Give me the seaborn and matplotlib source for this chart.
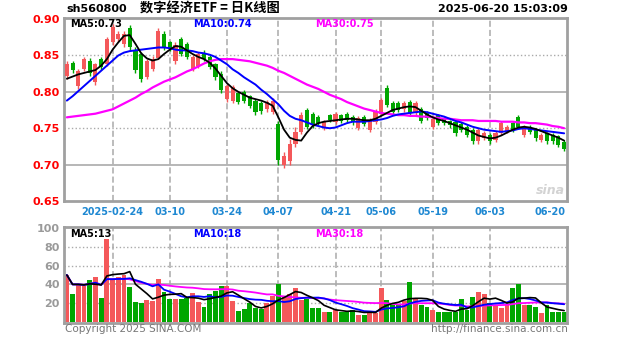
import numpy as np
import pandas as pd
import matplotlib
matplotlib.use("Agg")
import matplotlib.pyplot as plt
import seaborn as sns

# ---------------- data ----------------
holidays = ["2025-04-04", "2025-05-01", "2025-05-02", "2025-05-05", "2025-06-02"]
dates = [d for d in pd.bdate_range("2025-02-12", "2025-06-20") if d.strftime("%Y-%m-%d") not in holidays]

opens = [0.822,0.840,0.808,0.832,0.843,0.813,0.845,0.838,0.868,0.872,
         0.866,0.888,0.858,0.852,0.820,0.832,0.847,0.880,0.868,0.842,
         0.872,0.866,0.832,0.836,0.854,0.848,0.838,0.825,0.790,0.788,
         0.798,0.800,0.794,0.788,0.785,0.776,0.772,0.756,0.700,0.705,
         0.728,0.745,0.775,0.770,0.766,0.750,0.768,0.759,0.768,0.770,
         0.766,0.750,0.766,0.748,0.759,0.770,0.805,0.784,0.784,0.776,
         0.786,0.771,0.776,0.772,0.752,0.768,0.763,0.760,0.758,0.756,
         0.752,0.748,0.732,0.736,0.741,0.734,0.743,0.745,0.757,0.766,
         0.741,0.752,0.748,0.734,0.743,0.741,0.739,0.731]
closes = [0.838,0.830,0.828,0.845,0.826,0.838,0.834,0.872,0.889,0.880,
          0.880,0.862,0.830,0.818,0.842,0.845,0.884,0.862,0.860,0.864,
          0.852,0.848,0.848,0.852,0.845,0.834,0.820,0.802,0.808,0.806,
          0.786,0.788,0.781,0.772,0.774,0.786,0.788,0.706,0.712,0.728,
          0.745,0.768,0.752,0.755,0.757,0.759,0.762,0.770,0.760,0.762,
          0.758,0.764,0.756,0.761,0.773,0.789,0.782,0.773,0.775,0.784,
          0.771,0.784,0.760,0.764,0.763,0.757,0.757,0.754,0.743,0.748,
          0.741,0.732,0.748,0.743,0.732,0.743,0.757,0.752,0.748,0.752,
          0.752,0.745,0.736,0.741,0.732,0.732,0.727,0.722]
highs = [0.842,0.842,0.832,0.848,0.846,0.840,0.848,0.876,0.893,0.884,
         0.884,0.892,0.862,0.855,0.845,0.849,0.888,0.884,0.870,0.868,
         0.875,0.868,0.851,0.855,0.857,0.850,0.840,0.828,0.811,0.810,
         0.800,0.802,0.796,0.790,0.788,0.789,0.791,0.760,0.718,0.735,
         0.752,0.772,0.778,0.772,0.768,0.762,0.770,0.773,0.770,0.772,
         0.768,0.767,0.768,0.764,0.776,0.792,0.810,0.787,0.787,0.787,
         0.789,0.787,0.779,0.774,0.766,0.770,0.765,0.762,0.760,0.758,
         0.754,0.750,0.751,0.746,0.744,0.746,0.760,0.755,0.760,0.768,
         0.755,0.755,0.750,0.743,0.745,0.743,0.741,0.734]
lows = [0.818,0.826,0.804,0.829,0.822,0.810,0.830,0.835,0.865,0.869,
        0.862,0.858,0.826,0.814,0.817,0.829,0.845,0.858,0.856,0.838,
        0.849,0.845,0.829,0.833,0.842,0.831,0.816,0.798,0.786,0.785,
        0.783,0.785,0.778,0.768,0.770,0.773,0.769,0.700,0.695,0.700,
        0.724,0.742,0.749,0.751,0.754,0.747,0.759,0.756,0.757,0.759,
        0.755,0.748,0.753,0.745,0.756,0.768,0.779,0.770,0.772,0.773,
        0.768,0.768,0.757,0.761,0.749,0.754,0.754,0.751,0.740,0.745,
        0.738,0.729,0.729,0.734,0.729,0.731,0.741,0.743,0.745,0.749,
        0.738,0.742,0.733,0.731,0.729,0.729,0.724,0.719]
ma5 = [0.818,0.821,0.824,0.826,0.828,0.830,0.836,0.845,0.858,0.868,
       0.877,0.878,0.866,0.853,0.846,0.843,0.845,0.852,0.858,0.863,
       0.862,0.857,0.852,0.848,0.845,0.840,0.832,0.822,0.812,0.805,
       0.800,0.796,0.792,0.790,0.788,0.785,0.781,0.765,0.748,0.737,
       0.734,0.733,0.744,0.753,0.757,0.759,0.760,0.761,0.762,0.763,
       0.763,0.762,0.761,0.761,0.763,0.767,0.771,0.775,0.777,0.779,
       0.780,0.779,0.774,0.769,0.765,0.762,0.760,0.757,0.754,0.751,
       0.748,0.744,0.740,0.738,0.736,0.737,0.740,0.744,0.748,0.751,
       0.752,0.751,0.749,0.746,0.743,0.740,0.737,0.733]
ma10 = [0.788,0.794,0.801,0.808,0.815,0.822,0.829,0.836,0.843,0.850,
        0.854,0.856,0.857,0.858,0.859,0.860,0.861,0.861,0.860,0.858,
        0.857,0.857,0.856,0.854,0.853,0.851,0.848,0.843,0.838,0.831,
        0.826,0.820,0.815,0.810,0.803,0.797,0.790,0.783,0.774,0.767,
        0.763,0.761,0.758,0.755,0.753,0.751,0.750,0.751,0.754,0.757,
        0.759,0.759,0.759,0.760,0.761,0.762,0.764,0.767,0.769,0.770,
        0.771,0.772,0.773,0.772,0.770,0.768,0.766,0.763,0.760,0.758,
        0.755,0.752,0.750,0.748,0.747,0.746,0.745,0.746,0.747,0.749,
        0.750,0.749,0.748,0.747,0.746,0.745,0.744,0.743]
ma30 = [0.765,0.766,0.767,0.768,0.769,0.770,0.772,0.774,0.776,0.780,
        0.784,0.788,0.792,0.797,0.801,0.806,0.810,0.814,0.817,0.820,
        0.824,0.828,0.831,0.835,0.839,0.842,0.844,0.845,0.845,0.845,
        0.844,0.843,0.842,0.840,0.838,0.836,0.833,0.829,0.826,0.822,
        0.818,0.814,0.810,0.807,0.804,0.800,0.796,0.793,0.790,0.786,
        0.783,0.780,0.777,0.775,0.773,0.771,0.770,0.769,0.768,0.768,
        0.767,0.767,0.766,0.766,0.765,0.764,0.763,0.763,0.762,0.761,
        0.761,0.761,0.760,0.760,0.760,0.760,0.759,0.759,0.759,0.758,
        0.758,0.757,0.757,0.756,0.755,0.753,0.752,0.750]
volumes = [50,30,40,38,45,48,26,88,45,48,
           50,37,21,20,23,22,46,32,24,24,
           25,26,31,21,16,30,33,38,38,22,
           12,14,20,15,14,20,28,40,28,30,
           36,23,25,15,15,11,11,13,11,11,
           13,8,8,12,10,36,23,18,18,22,
           43,25,18,16,13,11,11,11,11,25,
           13,27,32,30,20,18,15,18,36,40,
           18,18,16,10,18,11,11,11]

tick_dates = ["2025-02-24", "2025-03-10", "2025-03-24", "2025-04-07", "2025-04-21",
              "2025-05-06", "2025-05-19", "2025-06-03", "2025-06-20"]
tick_labels = ["2025-02-24", "03-10", "03-24", "04-07", "04-21", "05-06", "05-19", "06-03", "06-20"]
price_ticks = [0.65, 0.70, 0.75, 0.80, 0.85, 0.90]
price_tick_labels = ["0.65", "0.70", "0.75", "0.80", "0.85", "0.90"]
vol_ticks = [20, 40, 60, 80, 100]
vol_tick_labels = ["20", "40", "60", "80", "100"]

# ---------------- style ----------------
sns.set_theme(style="white")
plt.rcParams["font.family"] = ["DejaVu Sans", "Noto Sans CJK SC"]

RED = "#F4585A"
GREEN = "#00A600"
GRID = "#AAAAAA"
DATE_BLUE = "#1E88D2"

date_str = [d.strftime("%Y-%m-%d") for d in dates]
df = pd.DataFrame({"idx": np.arange(len(dates)), "open": opens, "close": closes,
                   "high": highs, "low": lows, "ma5": ma5, "ma10": ma10, "ma30": ma30,
                   "vol": volumes})
df["up"] = df["close"] >= df["open"]
df["color"] = np.where(df["up"], RED, GREEN)

fig = plt.figure(figsize=(6.27, 3.42), dpi=100)
W, H = 627, 342
L, R = 64, 567
ax = fig.add_axes([L / W, 1 - 201 / H, (R - L) / W, 183 / H])
axv = fig.add_axes([L / W, 1 - 323 / H, (R - L) / W, 96 / H])

n = len(df)
for a in (ax, axv):
    a.set_xlim(-0.5, n - 0.5)
    a.set_facecolor("white")
    for s in a.spines.values():
        s.set_color("#A0A0A0")
        s.set_linewidth(2.0)
    a.set_xticks([])

tick_pos = [date_str.index(t) for t in tick_dates]

# grid lines
for a in (ax, axv):
    for p in tick_pos[:-1]:
        a.axvline(p, color=GRID, lw=1.1, ls=(0, (4, 2)), zorder=0)
for yv, st in [(0.85, ":"), (0.80, "-"), (0.75, ":"), (0.70, "-")]:
    ax.axhline(yv, color=GRID, lw=1.2 if st == "-" else 1.0, ls=st, zorder=0)
for yv, st in [(80, ":"), (60, ":"), (40, "-"), (20, ":")]:
    axv.axhline(yv, color=GRID, lw=1.2 if st == "-" else 1.0, ls=st, zorder=0)

# candles
ax.vlines(df["idx"], df["low"], df["high"], colors=df["color"], lw=1.0, zorder=2)
body_bottom = np.minimum(df["open"], df["close"])
body_h = np.maximum(np.abs(df["close"] - df["open"]), 0.0012)
ax.bar(df["idx"], body_h, bottom=body_bottom, width=0.72, color=df["color"], lw=0, zorder=3)

# moving averages
sns.lineplot(data=df, x="idx", y="ma30", ax=ax, color="#FF00FF", lw=1.6, zorder=4)
sns.lineplot(data=df, x="idx", y="ma10", ax=ax, color="#0000FF", lw=1.4, zorder=5)
sns.lineplot(data=df, x="idx", y="ma5", ax=ax, color="black", lw=1.3, zorder=6)

ax.set_ylim(0.65, 0.9015)
ax.set_yticks(price_ticks)
ax.set_yticklabels(price_tick_labels, color="red", fontsize=8, fontweight="bold")
ax.tick_params(axis="y", length=0, pad=3)
ax.set_xlabel("")
ax.set_ylabel("")

ax.text(0.012, 0.965, "MA5:0.73", transform=ax.transAxes, color="black", fontsize=7,
        fontweight="bold", va="center", ha="left")
ax.text(0.256, 0.965, "MA10:0.74", transform=ax.transAxes, color="#0000FF", fontsize=7,
        fontweight="bold", va="center", ha="left")
ax.text(0.50, 0.965, "MA30:0.75", transform=ax.transAxes, color="#FF00FF", fontsize=7,
        fontweight="bold", va="center", ha="left")

# date labels
xt = ax.get_xaxis_transform()
for p, lab in zip(tick_pos, tick_labels):
    if lab == tick_labels[-1]:
        ax.text(p + 0.2, -0.062, lab, transform=xt, ha="right", va="center",
                color=DATE_BLUE, fontsize=7, fontweight="bold")
    else:
        ax.text(p, -0.062, lab, transform=xt, ha="center", va="center",
                color=DATE_BLUE, fontsize=7, fontweight="bold")

# sina watermark
ax.text(0.995, 0.06, "sina", transform=ax.transAxes, ha="right", va="center",
        color="#C8C8C8", fontsize=9, fontweight="bold", style="italic", alpha=0.8)

# volume
axv.bar(df["idx"], df["vol"], width=0.86, color=df["color"], lw=0, zorder=2)
vol_s = pd.Series(volumes, dtype=float)
df["vma5"] = vol_s.rolling(5, min_periods=1).mean()
df["vma10"] = vol_s.rolling(10, min_periods=1).mean()
df["vma30"] = vol_s.rolling(30, min_periods=1).mean()
sns.lineplot(data=df, x="idx", y="vma30", ax=axv, color="#FF00FF", lw=1.3, zorder=4)
sns.lineplot(data=df, x="idx", y="vma10", ax=axv, color="#0000FF", lw=1.3, zorder=5)
sns.lineplot(data=df, x="idx", y="vma5", ax=axv, color="black", lw=1.2, zorder=6)
axv.set_ylim(-1, 101)
axv.set_yticks(vol_ticks)
axv.set_yticklabels(vol_tick_labels, color="#9A9A9A", fontsize=8, fontweight="bold")
axv.tick_params(axis="y", length=0, pad=3)
axv.set_xlabel("")
axv.set_ylabel("")

axv.text(0.012, 0.93, "MA5:13", transform=axv.transAxes, color="black", fontsize=7,
         fontweight="bold", va="center", ha="left")
axv.text(0.256, 0.93, "MA10:18", transform=axv.transAxes, color="#0000FF", fontsize=7,
         fontweight="bold", va="center", ha="left")
axv.text(0.50, 0.93, "MA30:18", transform=axv.transAxes, color="#FF00FF", fontsize=7,
         fontweight="bold", va="center", ha="left")

# header / footer texts
fig.text(66 / W, 1 - 9 / H, "sh560800", ha="left", va="center", fontsize=8,
         fontweight="bold", color="black")
fig.text(210 / W, 1 - 9 / H, "数字经济ETF = 日K线图", ha="center", va="center",
         fontsize=9.5, fontweight="bold", color="black",
         family=["Noto Sans CJK SC", "DejaVu Sans"])
fig.text(568 / W, 1 - 9 / H, "2025-06-20 15:03:09", ha="right", va="center",
         fontsize=8, fontweight="bold", color="black")
fig.text(65 / W, 1 - 329 / H, "Copyright 2025 SINA.COM", ha="left", va="center",
         fontsize=7.5, color="#777777")
fig.text(568 / W, 1 - 329 / H, "http://finance.sina.com.cn", ha="right", va="center",
         fontsize=7.5, color="#777777")

fig.savefig("out.png", dpi=100, facecolor="white")
